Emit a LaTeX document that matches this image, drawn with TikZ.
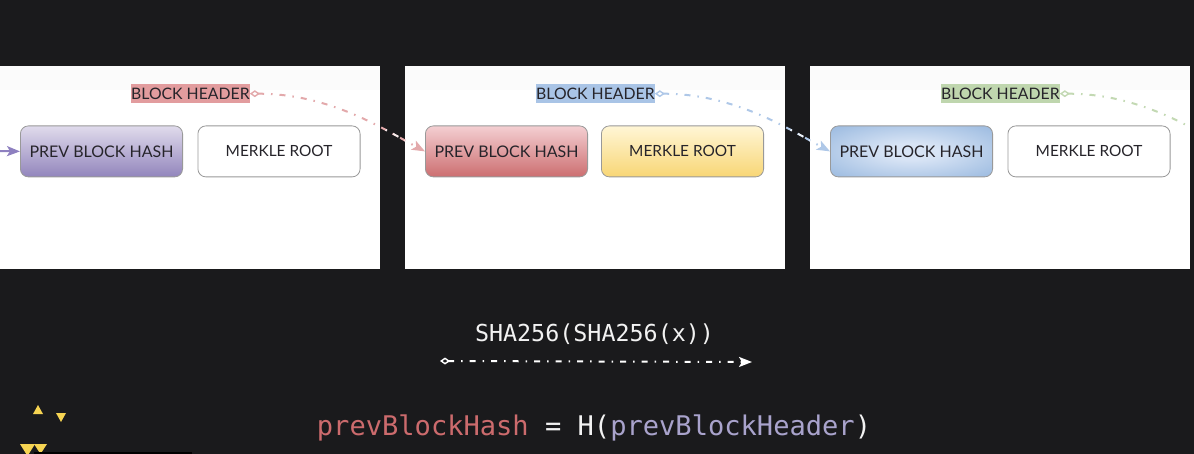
\documentclass[tikz,border=0pt]{standalone}
\usepackage{fontspec}
\setmainfont{Lato}
\newfontfamily\codefont{DejaVu Sans Mono}
\usetikzlibrary{arrows.meta,shadings}
\definecolor{bgdark}{HTML}{1A1A1C}
\definecolor{ink}{HTML}{26242A}
\definecolor{pinkline}{HTML}{E3A9AB}
\definecolor{blueline}{HTML}{AFC8E8}
\definecolor{greenline}{HTML}{C3D9B3}
\definecolor{purpleline}{HTML}{8E80C0}
\definecolor{hlred}{HTML}{E29C9E}
\definecolor{hlblue}{HTML}{A9C4E6}
\definecolor{hlgreen}{HTML}{BFD6AE}
\definecolor{yellowtri}{HTML}{F6D452}
\definecolor{codered}{HTML}{CC6B6D}
\definecolor{codepurple}{HTML}{A9A3CC}
\definecolor{codewhite}{HTML}{F2F2F2}
\definecolor{purpletop}{HTML}{E0DBEC}
\definecolor{purplebot}{HTML}{9285BC}
\definecolor{redtop}{HTML}{F4CFD2}
\definecolor{redbot}{HTML}{CC6E70}
\definecolor{yellowtop}{HTML}{FFF6D6}
\definecolor{yellowbot}{HTML}{F8D675}
\definecolor{bluemid}{HTML}{D8E4F5}
\definecolor{blueedge}{HTML}{7FA7D6}
\definecolor{blueout}{HTML}{6F9BD0}
\pgfdeclareradialshading{softblue}{\pgfpoint{0bp}{0bp}}{color(0bp)=(bluemid); color(8bp)=(bluemid); color(48bp)=(blueedge); color(70bp)=(blueout)}
\tikzset{
  panel/.style={fill=white,draw=none,minimum width=380pt,minimum height=203pt,anchor=north west,inner sep=0pt,path picture={\fill[black!1.5] (path picture bounding box.north west) rectangle ([yshift=-24pt]path picture bounding box.north east);}},
  hashbox/.style={rounded corners=8pt,draw=black!40,line width=0.8pt,minimum width=162.2pt,minimum height=51pt,inner sep=0pt,text=ink,font=\fontsize{16}{18}\selectfont,anchor=north west},
  rootbox/.style={hashbox,font=\fontsize{15.4}{18}\selectfont},
  header/.style={inner sep=0pt,minimum width=118pt,minimum height=19pt,text=ink,font=\fontsize{15.8}{18}\selectfont,anchor=north west},
  link/.style={line width=2pt,dash pattern=on 6pt off 7pt on 1.5pt off 7pt},
  linkends/.style={{Diamond[open,length=10pt,width=7pt,line width=1.4pt]}-{Stealth[length=13pt,width=10pt,inset=3pt]}},
  tri/.style={fill=yellowtri,draw=none},
  codetext/.style={inner sep=0pt,font=\codefont}
}
\begin{document}
\begin{tikzpicture}[x=1pt,y=-1pt]
\useasboundingbox (0,0) rectangle (1194,454);
\clip (0,0) rectangle (1194,454);
\fill[bgdark] (0,0) rectangle (1194,454);
% panels
\node[panel] (panelA) at (0,66) {};
\node[panel] (panelB) at (405,66) {};
\node[panel] (panelC) at (810,66) {};
% headers
\node[header,fill=hlred] (headA) at (131,84) {BLOCK HEADER};
\node[header,fill=hlblue] (headB) at (536,84) {BLOCK HEADER};
\node[header,fill=hlgreen] (headC) at (941,84) {BLOCK HEADER};
% boxes
\node[hashbox,top color=purpletop,bottom color=purplebot] (prevA) at (20,125.5) {PREV BLOCK HASH};
\node[rootbox,fill=white] (rootA) at (197.5,125.5) {MERKLE ROOT};
\node[hashbox,top color=redtop,bottom color=redbot] (prevB) at (425,125.5) {PREV BLOCK HASH};
\node[rootbox,top color=yellowtop,bottom color=yellowbot] (rootB) at (601,125.5) {MERKLE ROOT};
\node[hashbox,shading=softblue] (prevC) at (830,125.5) {PREV BLOCK HASH};
\node[rootbox,fill=white] (rootC) at (1007.5,125.5) {MERKLE ROOT};
% free ends
\coordinate (inA) at (0,151);
\coordinate (outC) at (1235,152);
% connectors
\draw[link,pinkline,linkends] (headA.east) .. controls +(81,0) and (385,130) .. (prevB.west);
\draw[link,blueline,linkends] (headB.east) .. controls +(81,0) and (790,130) .. (prevC.west);
\begin{scope}
\clip (810,60) rectangle (1190,280);
\draw[link,greenline,linkends] (headC.east) .. controls +(81,0) and (1195,130) .. (outC);
\end{scope}
\draw[purpleline,line width=2pt,-{Stealth[length=13pt,width=10pt,inset=3pt]}] (inA) -- (prevA.west);
% the same lines look pale over the dark gaps
\begin{scope}
\clip (380,66) rectangle (405,269);
\draw[link,white!75!pinkline] (headA.east) .. controls +(81,0) and (385,130) .. (prevB.west);
\end{scope}
\begin{scope}
\clip (785,66) rectangle (810,269);
\draw[link,white!75!blueline] (headB.east) .. controls +(81,0) and (790,130) .. (prevC.west);
\end{scope}
% hash label
\node[codetext,text=codewhite,font=\codefont\fontsize{23.35}{26}\selectfont] (sha) at (594.5,334.5) {SHA256(SHA256(x))};
\coordinate (shaL) at (440,361);
\coordinate (shaR) at (752,362);
\draw[link,white,linkends] (shaL) -- (shaR);
% formula
\node[codetext,font=\codefont\fontsize{27.07}{30}\selectfont,text=codewhite] (formula) at (594,427.5) {\textcolor{codered}{prevBlockHash} = H(\textcolor{codepurple}{prevBlockHeader})};
% bottom left marks
\fill[tri] (33,414) -- (38,405) -- (43,414) -- cycle;
\fill[tri] (56,413) -- (66,413) -- (61,422) -- cycle;
\fill[tri] (20,444) -- (35,444) -- (27.5,456) -- cycle;
\fill[tri] (34,444) -- (47,444) -- (40.5,454) -- cycle;
\fill[black] (34,452) -- (192,452) -- (192,454) -- (34,454) -- cycle;
\end{tikzpicture}
\end{document}
